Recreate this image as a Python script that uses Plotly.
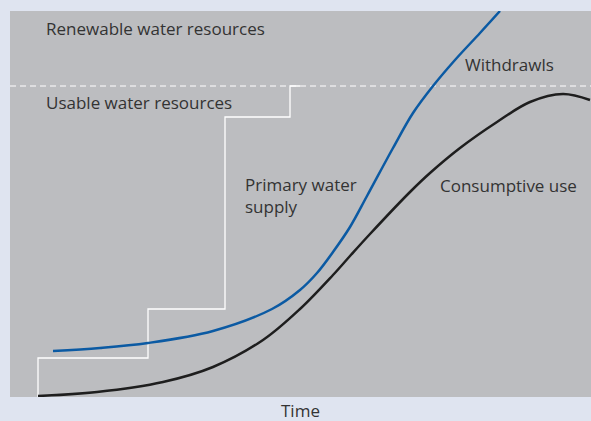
import plotly.graph_objects as go

# readings (time units, volume units) from the picture
usable_t = [28, 28, 138, 138, 215, 215, 280, 280, 290]
usable_v = [0, 39, 39, 88, 88, 280, 280, 311, 311]

withdraw_t = [43, 90, 138, 203, 262, 290, 307, 323, 340, 357, 383, 403, 423, 445, 470, 490]
withdraw_v = [46, 49, 54, 66, 88, 107, 124, 145, 170, 201, 249, 284, 311, 337, 364, 386]

consume_t = [28, 87, 153, 203, 253, 290, 323, 340, 360, 400, 420, 450, 487, 520, 553, 580]
consume_v = [1, 5, 15, 30, 57, 88, 122, 141, 163, 205, 224, 249, 275, 295, 303, 297]

renewable_level = 311

fig = go.Figure()
fig.add_trace(go.Scatter(x=[0, 581], y=[renewable_level, renewable_level], mode="lines",
                         line=dict(color="white", width=1.2, dash="6px,4px"), hoverinfo="skip"))
fig.add_trace(go.Scatter(x=usable_t, y=usable_v, mode="lines",
                         line=dict(color="white", width=1.3), hoverinfo="skip"))
fig.add_trace(go.Scatter(x=withdraw_t, y=withdraw_v, mode="lines", line_shape="spline",
                         line=dict(color="#0b5aa3", width=2.5, smoothing=1), hoverinfo="skip"))
fig.add_trace(go.Scatter(x=consume_t, y=consume_v, mode="lines", line_shape="spline",
                         line=dict(color="#1e1e1e", width=2.5, smoothing=1), hoverinfo="skip"))

fnt = dict(family="Open Sans", size=17, color="#333333")
labels = [
    (34, 369, "Renewable water resources"),
    (34, 295, "Usable water resources"),
    (453, 333, "Withdrawls"),
    (233, 202, "Primary water<br>supply"),
    (428, 212, "Consumptive use"),
]
for x, y, t in labels:
    fig.add_annotation(x=x, y=y, text=t, showarrow=False, xanchor="left", yanchor="middle",
                       align="left", font=fnt)

fig.update_layout(
    width=591, height=421,
    margin=dict(l=10, r=0, t=11, b=24),
    paper_bgcolor="#dfe4f0", plot_bgcolor="#bcbdc0",
    showlegend=False,
    xaxis=dict(range=[0, 581], visible=False, fixedrange=True),
    yaxis=dict(range=[0, 386], visible=False, fixedrange=True),
)
fig.add_annotation(xref="paper", yref="paper", x=0.5, y=0, yshift=-13, text="Time",
                   showarrow=False, font=fnt, xanchor="center", yanchor="middle")
fig.write_html("out.html", config={"displayModeBar": False},
               post_script="document.body.style.margin='0';")
